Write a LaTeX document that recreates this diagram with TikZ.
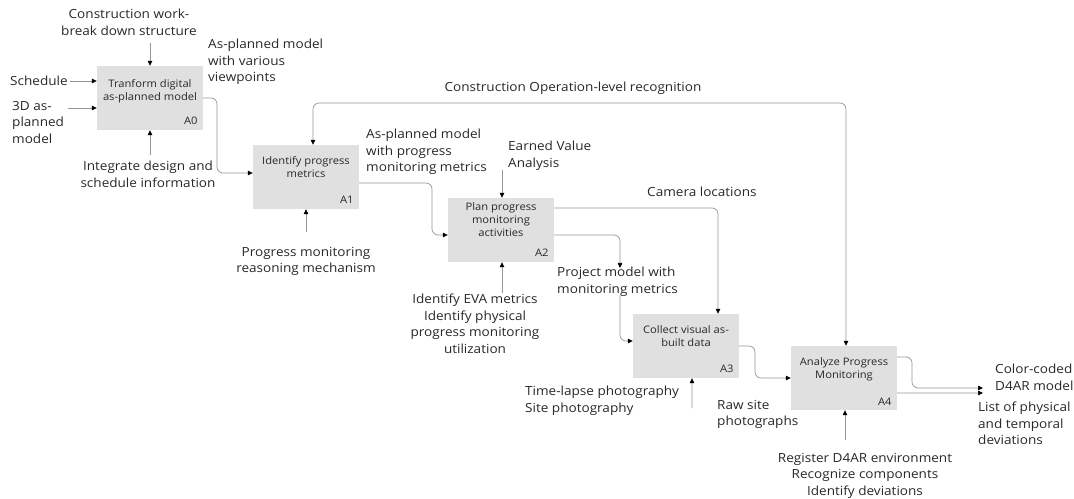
\documentclass[tikz,border=0pt]{standalone}
\usepackage{fontspec}
\setmainfont{Open Sans}[FakeStretch=1.08]
\usetikzlibrary{arrows.meta}
\definecolor{boxgray}{RGB}{224,224,224}
\definecolor{linegray}{RGB}{150,150,150}
\definecolor{textgray}{RGB}{40,40,40}
\newcommand\lblfont{\fontsize{12.6}{16.5}\selectfont}
\newcommand\actfont{\fontsize{10.4}{13.5}\selectfont}

\begin{document}
\begin{tikzpicture}[x=1bp, y=-1bp,
  act/.style={fill=boxgray, minimum width=106bp, minimum height=64bp, inner sep=0},
  acttext/.style={font=\actfont, text=textgray, align=center, anchor=north, inner sep=0},
  actid/.style={font=\actfont, text=textgray, anchor=south east, inner sep=0},
  lbl/.style={font=\lblfont, text=textgray, align=left, anchor=north west, inner sep=0},
  lblc/.style={font=\lblfont, text=textgray, align=center, anchor=north, inner sep=0},
  conn/.style={draw=linegray, line width=0.7bp, rounded corners=6bp},
  arrowend/.style={-{Triangle[length=5bp, width=4.5bp, color=black]}},
  arrowboth/.style={{Triangle[length=5bp, width=4.5bp, color=black]}-{Triangle[length=5bp, width=4.5bp, color=black]}},
]
\useasboundingbox (0,0) rectangle (1074,499);

% ---------- activity boxes ----------
\node[act] (A0) at (150,98) {};
\node[acttext] (A0t) at (150,79) {Tranform digital\\as-planned model};
\node[actid] (A0i) at ([shift={(-5.5bp,5bp)}]A0.south east) {A0};

\node[act] (A1) at (306,177) {};
\node[acttext] (A1t) at (306,156) {Identify progress\\metrics};
\node[actid] (A1i) at ([shift={(-5.5bp,5bp)}]A1.south east) {A1};

\node[act] (A2) at (501,230) {};
\node[acttext] (A2t) at (501,202) {Plan progress\\monitoring\\activities};
\node[actid] (A2i) at ([shift={(-5.5bp,5bp)}]A2.south east) {A2};

\node[act] (A3) at (686,346) {};
\node[acttext] (A3t) at (686,325) {Collect visual as-\\built data};
\node[actid] (A3i) at ([shift={(-5.5bp,5bp)}]A3.south east) {A3};

\node[act] (A4) at (844,378) {};
\node[acttext] (A4t) at (844,357) {Analyze Progress\\Monitoring};
\node[actid] (A4i) at ([shift={(-5.5bp,5bp)}]A4.south east) {A4};

% ---------- labels ----------
\node[lblc] (wbs) at (129,9) {Construction work-\\break down structure};
\node[lbl] (viewp) at (208,39) {As-planned model\\with various\\viewpoints};
\node[lbl, anchor=west] (sched) at (10,81) {Schedule};
\node[lbl] (m3d) at (12,101) {3D as-\\planned\\model};
\node[lblc] (integ) at (148,161) {Integrate design and\\schedule information};
\node[font=\lblfont, text=textgray, inner sep=0] (oprec) at (573,88) {Construction Operation-level recognition};
\node[lbl] (pmm) at (366,129) {As-planned model\\with progress\\monitoring metrics};
\node[lblc] (reason) at (306,247) {Progress monitoring\\reasoning mechanism};
\node[lbl] (eva) at (508,141) {Earned Value\\Analysis};
\node[lblc] (evam) at (475,294) {Identify EVA metrics\\Identify physical\\progress monitoring\\utilization};
\node[lbl, anchor=west] (cam) at (647,192) {Camera locations};
\node[lbl] (projm) at (557,267) {Project model with\\monitoring metrics};
\node[lbl] (photo) at (525,386) {Time-lapse photography\\Site photography};
\node[lbl] (raw) at (717,400) {Raw site\\photographs};
\node[lblc] (reg) at (865,453) {Register D4AR environment\\Recognize components\\Identify deviations};
\node[lbl] (ccm) at (995,364) {Color-coded\\D4AR model};
\node[lbl] (dev) at (978,402) {List of physical\\and temporal\\deviations};

% ---------- free connector ends ----------
\coordinate (cwbs) at (150,43);
\coordinate (c3d) at (68,108);
\coordinate (cinteg) at (150,155);
\coordinate (creason) at (306,232);
\coordinate (ceva) at (502,170);
\coordinate (cevam) at (502,293);
\coordinate (pmtop) at (620,268);
\coordinate (pmbot) at (620,296);
\coordinate (cphoto) at (692,408);
\coordinate (creg) at (845,440);
\coordinate (out1) at (983,388);
\coordinate (out2) at (983,393);

% ---------- inputs and controls ----------
\draw[conn, arrowend] ([xshift=2bp]sched.east) -- (sched.east -| A0.west);
\draw[conn, arrowend] (c3d) -- (c3d -| A0.west);
\draw[conn, arrowend] (cwbs) -- (A0.north);
\draw[conn, arrowend] (cinteg) -- (A0.south);
\draw[conn, arrowend] (creason) -- (A1.south);
\draw[conn, arrowend] (ceva) -- ([xshift=1bp]A2.north);
\draw[conn, arrowend] (cevam) -- ([xshift=1bp]A2.south);
\draw[conn, arrowend] (cphoto) -- ([xshift=6bp]A3.south);
\draw[conn, arrowend] (creg) -- ([xshift=1bp]A4.south);

% ---------- flows between activities ----------
\draw[conn, arrowend] (A0.east) -- (217,98) |- ([yshift=4bp]A1.west);
\draw[conn, arrowend] ([yshift=-6bp]A1.east) -- (432,183) |- ([yshift=-5bp]A2.west);
\draw[conn, arrowend] ([yshift=22bp]A2.east) -| ([xshift=32bp]A3.north);
\draw[conn, arrowend] ([yshift=-5bp]A2.east) -| (pmtop);
\draw[conn, arrowend] (pmbot) |- ([yshift=5bp]A3.west);
\draw[conn, arrowend] (A3.east) -- (755,346) |- (A4.west);
\draw[conn, arrowboth] ([xshift=7bp]A1.north) |- (580,103) -| ([xshift=2bp]A4.north);

% ---------- outputs ----------
\draw[conn, arrowend] ([yshift=21bp]A4.east) -- (912,357) |- (out1);
\draw[conn, arrowend] ([yshift=-15bp]A4.east) -- (out2);
\end{tikzpicture}
\end{document}
